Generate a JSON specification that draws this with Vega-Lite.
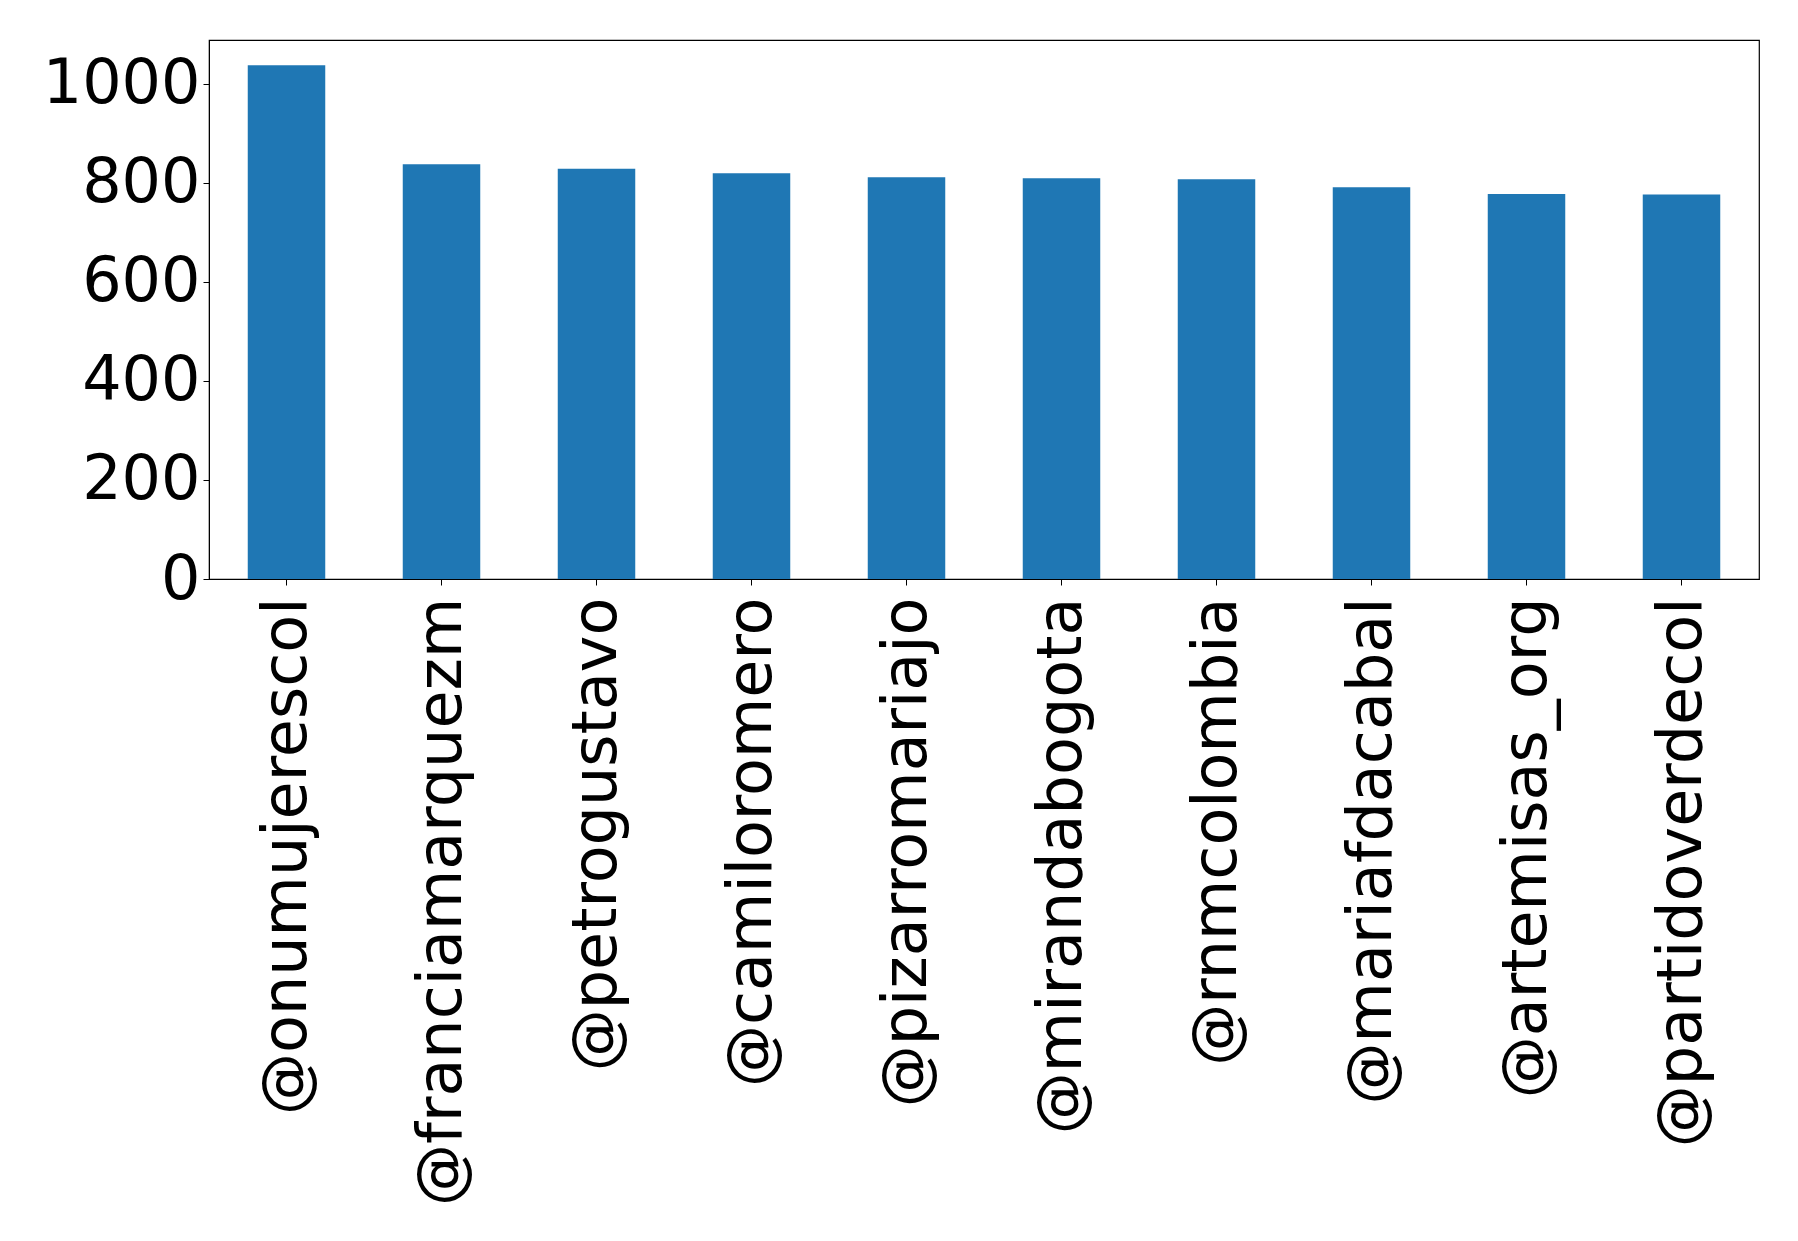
{
  "$schema": "https://vega.github.io/schema/vega-lite/v6.json",
  "autosize": {"type": "none"},
  "width": 1550,
  "height": 539,
  "padding": {"left": 209, "top": 40, "right": 39, "bottom": 662},
  "background": "white",
  "config": {
    "view": {"stroke": "black", "strokeWidth": 1.2},
    "font": "DejaVu Sans"
  },
  "data": {
    "values": [
      {"user": "@onumujerescol", "count": 1037},
      {"user": "@franciamarquezm", "count": 837},
      {"user": "@petrogustavo", "count": 828},
      {"user": "@camiloromero", "count": 819},
      {"user": "@pizarromariajo", "count": 811},
      {"user": "@mirandabogota", "count": 809},
      {"user": "@rnmcolombia", "count": 807},
      {"user": "@mariafdacabal", "count": 791},
      {"user": "@artemisas_org", "count": 777},
      {"user": "@partidoverdecol", "count": 776}
    ]
  },
  "mark": {"type": "bar", "color": "#1f77b4"},
  "encoding": {
    "x": {
      "field": "user",
      "type": "nominal",
      "sort": null,
      "scale": {"paddingInner": 0.5, "paddingOuter": 0.25},
      "axis": {
        "title": null,
        "labelAngle": -90,
        "labelAlign": "right",
        "labelBaseline": "middle",
        "labelFont": "DejaVu Sans",
        "labelFontSize": 62,
        "labelColor": "black",
        "labelPadding": 12,
        "labelLimit": 0,
        "tickColor": "black",
        "tickSize": 6,
        "domainColor": "black",
        "grid": false
      }
    },
    "y": {
      "field": "count",
      "type": "quantitative",
      "scale": {"domain": [0, 1088], "nice": false},
      "axis": {
        "title": null,
        "format": "d",
        "values": [0, 200, 400, 600, 800, 1000],
        "labelFont": "DejaVu Sans",
        "labelFontSize": 62,
        "labelColor": "black",
        "labelPadding": 3,
        "tickColor": "black",
        "tickSize": 6,
        "domainColor": "black",
        "grid": false
      }
    }
  }
}
